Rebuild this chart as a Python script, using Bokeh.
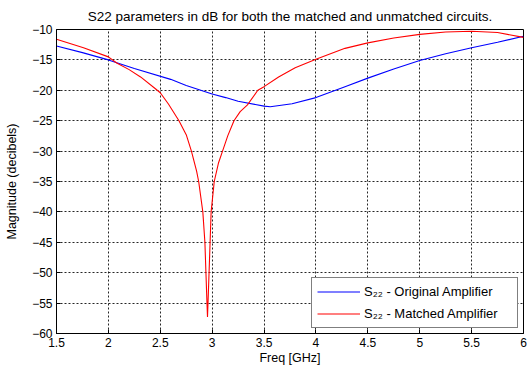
from bokeh.plotting import figure
from bokeh.models import Range1d, FixedTicker, Legend, LegendItem
from bokeh.embed import file_html
from bokeh.resources import INLINE

# ---- data ----
freq_orig = [1.5, 1.75, 2.0, 2.25, 2.6, 2.75, 3.0, 3.13, 3.25, 3.5, 3.56, 3.77, 4.0,
             4.28, 4.5, 4.75, 5.0, 5.25, 5.5, 5.75, 6.0]
s22_orig = [-12.7, -13.8, -15.0, -16.4, -18.2, -19.2, -20.6, -21.2, -21.8, -22.6, -22.7,
            -22.2, -21.2, -19.4, -18.0, -16.5, -15.1, -14.0, -13.0, -12.1, -11.1]

freq_matched = [1.5, 1.76, 2.0, 2.08, 2.2, 2.31, 2.45, 2.5, 2.58, 2.68, 2.75, 2.8, 2.85,
                2.87, 2.91, 2.93, 2.94, 2.95, 2.955, 2.96, 2.97, 2.98, 2.99, 3.02,
                3.06, 3.10, 3.15, 3.21, 3.27, 3.34, 3.44, 3.5, 3.64, 3.8, 4.0, 4.28, 4.5,
                4.75, 5.0, 5.25, 5.5, 5.75, 6.0]
s22_matched = [-11.6, -13.0, -14.5, -15.5, -16.6, -17.8, -19.7, -20.4, -22.3, -25.0,
               -27.3, -30.0, -33.3, -35.0, -40.0, -45.0, -50.0, -55.0, -57.3, -55.0,
               -50.0, -45.0, -40.0, -35.0, -32.0, -30.0, -27.5, -25.0, -23.5, -22.4,
               -20.0, -19.4, -17.8, -16.3, -14.9, -13.1, -12.2, -11.4, -10.8, -10.4,
               -10.3, -10.5, -11.3]

x_ticks = [1.5, 2, 2.5, 3, 3.5, 4, 4.5, 5, 5.5, 6]
x_tick_labels = ["1.5", "2", "2.5", "3", "3.5", "4", "4.5", "5", "5.5", "6"]
y_ticks = [-60, -55, -50, -45, -40, -35, -30, -25, -20, -15, -10]

title_text = "S22 parameters in dB for both the matched and unmatched circuits."
x_label = "Freq [GHz]"
y_label = "Magnitude (decibels)"
legend_labels = ["S\u2082\u2082 - Original Amplifier", "S\u2082\u2082 - Matched Amplifier"]

FONT = "Liberation Sans"

p = figure(width=527, height=369, x_range=Range1d(1.5, 6), y_range=Range1d(-60, -10),
           output_backend="svg", toolbar_location=None,
           min_border_left=56, min_border_right=4, min_border_top=28, min_border_bottom=36,
           background_fill_color="white", border_fill_color="white")

p.title.text = title_text
p.title.align = "center"
p.title.text_font = FONT
p.title.text_font_size = "13.5px"
p.title.text_font_style = "normal"
p.title.text_color = "black"
p.title.standoff = 12

p.outline_line_color = "black"
p.outline_line_width = 1

for ax in (p.xaxis[0], p.yaxis[0]):
    ax.major_tick_in = 4
    ax.major_tick_out = 0
    ax.minor_tick_in = 0
    ax.minor_tick_out = 0
    ax.axis_line_color = "black"
    ax.major_tick_line_color = "black"
    ax.major_label_text_font = FONT
    ax.major_label_text_font_size = "12px"
    ax.major_label_text_color = "black"
    ax.axis_label_text_font = FONT
    ax.axis_label_text_font_size = "12.5px"
    ax.axis_label_text_font_style = "normal"
    ax.axis_label_text_color = "black"

p.xaxis[0].ticker = FixedTicker(ticks=x_ticks)
p.xaxis[0].major_label_overrides = {t: l for t, l in zip(x_ticks, x_tick_labels)}
p.xaxis[0].axis_label = x_label
p.xaxis[0].major_label_standoff = 4
p.xaxis[0].axis_label_standoff = 1

p.yaxis[0].ticker = FixedTicker(ticks=y_ticks)
p.yaxis[0].axis_label = y_label
p.yaxis[0].major_label_standoff = 4
p.yaxis[0].axis_label_standoff = 10

for g in (p.xgrid[0], p.ygrid[0]):
    g.grid_line_color = "black"
    g.grid_line_dash = "2 2"
    g.grid_line_width = 1
    g.grid_line_alpha = 0.85

r1 = p.line(freq_orig, s22_orig, line_color="#0000ff", line_width=1.1)
r2 = p.line(freq_matched, s22_matched, line_color="#ff0000", line_width=1.1)

legend = Legend(items=[LegendItem(label=legend_labels[0], renderers=[r1]),
                       LegendItem(label=legend_labels[1], renderers=[r2])],
                location="bottom_right", border_line_color="black", border_line_width=1,
                background_fill_color="white", background_fill_alpha=1,
                label_text_font=FONT, label_text_font_size="13px", label_text_color="black",
                glyph_width=43, glyph_height=17, label_height=17, label_width=148,
                spacing=5, padding=5, margin=5, label_standoff=4)
p.add_layout(legend)

open("out.html", "w").write(file_html(p, INLINE))
